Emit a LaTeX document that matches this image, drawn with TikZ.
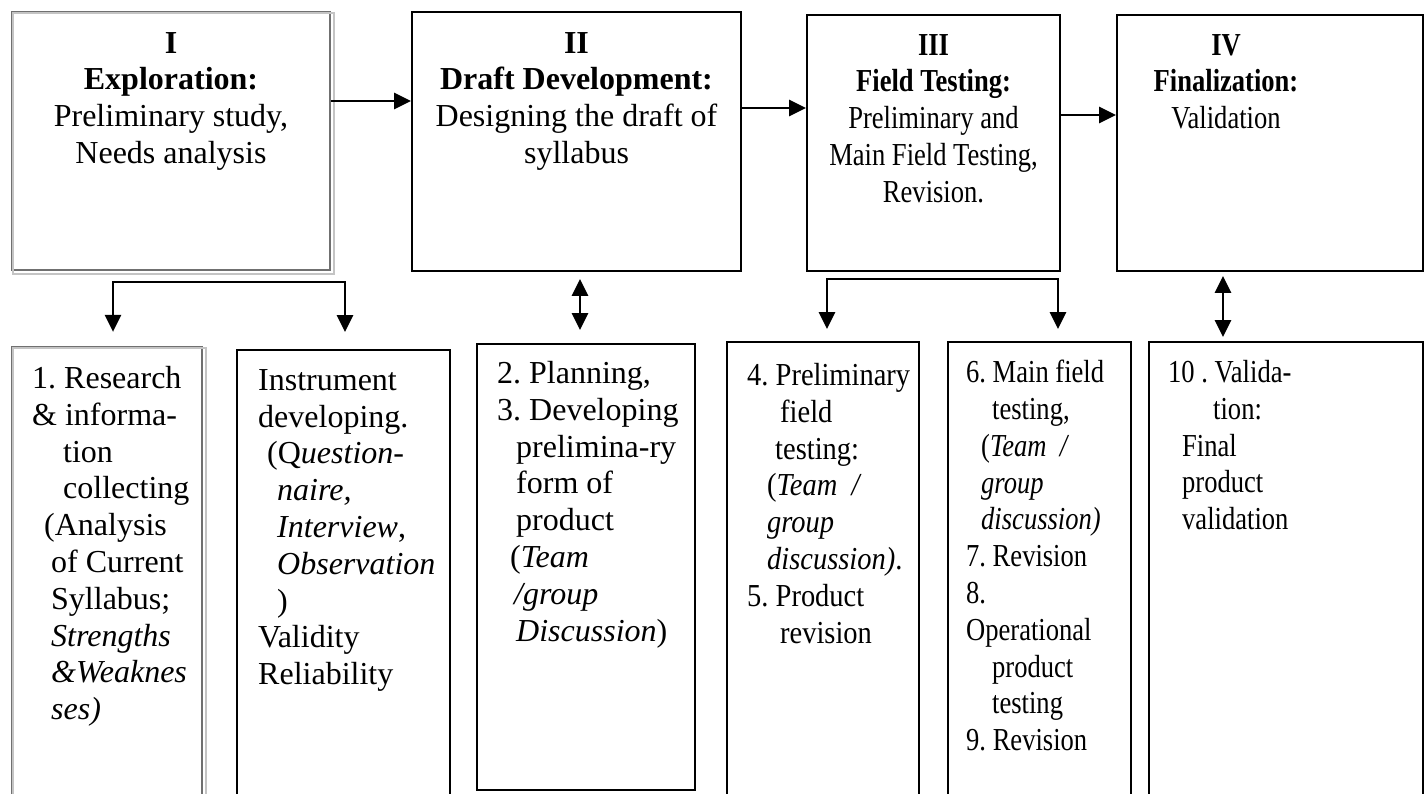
\documentclass[tikz,border=0pt]{standalone}
\usepackage{fontspec}
\setmainfont{Liberation Serif}
\newfontfamily\condA[FakeStretch=0.83]{Liberation Serif}
\newfontfamily\condB[FakeStretch=0.89]{Liberation Serif}
\usetikzlibrary{arrows.meta}
\definecolor{boxgrey}{HTML}{707070}
\definecolor{shadegrey}{HTML}{C4C4C4}
\newcommand\lnstrut{\rule{0pt}{22pt}}
\frenchspacing

\begin{document}
\begin{tikzpicture}[x=1pt,y=-1pt,
  box/.style={draw=black, line width=1.9pt, inner sep=0pt},
  greybox/.style={draw=boxgrey, line width=2.2pt, inner sep=0pt},
  shadeline/.style={draw=shadegrey, line width=2pt},
  txt/.style={inner sep=0pt, font=\fontsize{32pt}{36.8pt}\selectfont},
  txtA/.style={inner sep=0pt, font={\condA\fontsize{32pt}{36.8pt}\selectfont}},
  txtB/.style={inner sep=0pt, font={\condB\fontsize{32pt}{36.8pt}\selectfont}},
  arr/.style={line width=2.8pt, line join=miter, -{Triangle[length=17pt,width=16pt]}},
  darr/.style={line width=2.8pt, line join=miter, {Triangle[length=17pt,width=16pt]}-{Triangle[length=17pt,width=16pt]}}
]
\useasboundingbox (0,0) rectangle (1427,794);
\clip (0,0) rectangle (1427,794);

% stage boxes
\node[greybox, minimum width=318pt, minimum height=258pt] (s1) at (171,141) {};
\node[box, minimum width=329pt, minimum height=259pt] (s2) at (576.5,141.5) {};
\node[box, minimum width=253pt, minimum height=256pt] (s3) at (933.5,143) {};
\node[box, minimum width=306pt, minimum height=256pt] (s4) at (1270,143) {};
\draw[shadeline] ([xshift=2.5pt,yshift=-2.5pt]s1.north west) rectangle ([xshift=2.5pt,yshift=-2.5pt]s1.south east);

% step boxes
\node[greybox, minimum width=190pt, minimum height=453pt] (b1) at (107,573.5) {};
\node[box, minimum width=213pt, minimum height=450pt] (b2) at (343.5,575) {};
\node[box, minimum width=218pt, minimum height=446pt] (b3) at (586,567) {};
\node[box, minimum width=192pt, minimum height=458pt] (b4) at (823,571) {};
\node[box, minimum width=183pt, minimum height=458pt] (b5) at (1039.5,571) {};
\node[box, minimum width=274pt, minimum height=458pt] (b6) at (1286,571) {};
\draw[shadeline] ([xshift=2.5pt,yshift=-2.5pt]b1.north west) rectangle ([xshift=2.5pt,yshift=-2.5pt]b1.south east);

% stage texts
\node[txt, anchor=north, align=center] (t1) at (171,31)
  {\lnstrut\textbf{I}\\ \textbf{Exploration:}\\ Preliminary study,\\ Needs analysis};
\node[txt, anchor=north, align=center] (t2) at (576.5,31)
  {\lnstrut\textbf{II}\\ \textbf{Draft Development:}\\ Designing the draft of\\ syllabus};
\node[txtA, anchor=north, align=center] (t3) at (933.5,33)
  {\lnstrut\textbf{III}\\ \textbf{Field Testing:}\\ Preliminary and\\ Main Field Testing,\\ Revision.};
\node[txtA, anchor=north, align=center] (t4) at (1226,33)
  {\lnstrut\textbf{IV}\\ \textbf{Finalization:}\\ Validation};

% step texts
\node[txt, anchor=north west, align=left] (u1) at (32,366)
  {\lnstrut 1. Research\\
   \& informa-\\
   \hspace*{31pt}tion\\
   \hspace*{31pt}collecting\\
   \hspace*{12pt}(Analysis\\
   \hspace*{19pt}of Current\\
   \hspace*{19pt}Syllabus;\\
   \hspace*{19pt}\textit{Strengths}\\
   \hspace*{19pt}\textit{\&Weaknes}\\
   \hspace*{19pt}\textit{ses)}};
\node[txt, anchor=north west, align=left] (u2) at (258,368)
  {\lnstrut Instrument\\
   developing.\\
   \hspace*{9pt}(Q\textit{uestion-}\\
   \hspace*{19pt}\textit{naire,}\\
   \hspace*{19pt}\textit{Interview},\\
   \hspace*{19pt}\textit{Observation}\\
   \hspace*{19pt})\\
   Validity\\
   Reliability};
\node[txt, anchor=north west, align=left] (u3) at (497,361)
  {\lnstrut 2. Planning,\\
   3. Developing\\
   \hspace*{19pt}prelimina-ry\\
   \hspace*{19pt}form of\\
   \hspace*{19pt}product\\
   \hspace*{13pt}(\textit{Team}\\
   \hspace*{17pt}\textit{/group}\\
   \hspace*{19pt}\textit{Discussion})};
\node[txtB, anchor=north west, align=left] (u4) at (747,363)
  {\lnstrut 4. Preliminary\\
   \hspace*{33pt}field\\
   \hspace*{28pt}testing:\\
   \hspace*{20pt}(\textit{Team\ \ /}\\
   \hspace*{20pt}\textit{group}\\
   \hspace*{20pt}\textit{discussion)}.\\
   5. Product\\
   \hspace*{33pt}revision};
\node[txtA, anchor=north west, align=left] (u5) at (966,360)
  {\lnstrut 6. Main field\\
   \hspace*{26pt}testing,\\
   \hspace*{15pt}(\textit{Team\ \ /}\\
   \hspace*{15pt}\textit{group}\\
   \hspace*{15pt}\textit{discussion)}\\
   7. Revision\\
   8.\\
   Operational\\
   \hspace*{26pt}product\\
   \hspace*{26pt}testing\\
   9. Revision};
\node[txtA, anchor=north west, align=left] (u6) at (1168,360)
  {\lnstrut 10 . Valida-\\
   \hspace*{45pt}tion:\\
   \hspace*{14pt}Final\\
   \hspace*{14pt}product\\
   \hspace*{14pt}validation};

% flow between stages
\draw[arr] (s1.east |- 0,101) -- (s2.west |- 0,101);
\draw[arr] (s2.east |- 0,108) -- (s3.west |- 0,108);
\draw[arr] (s3.east |- 0,115) -- (s4.west |- 0,115);

% links from stages to steps
\coordinate (k1a) at (113,282);
\coordinate (k1b) at (345,282);
\draw[darr, shorten <=14pt, shorten >=17pt] (b1.north -| k1a) -- (k1a) -- (k1b) -- (b2.north -| k1b);
\coordinate (k2) at (580,300);
\draw[darr, shorten <=7pt, shorten >=13pt] (s2.south -| k2) -- (b3.north -| k2);
\coordinate (k3a) at (827,279);
\coordinate (k3b) at (1058,279);
\draw[darr, shorten <=12pt, shorten >=12pt] (b4.north -| k3a) -- (k3a) -- (k3b) -- (b5.north -| k3b);
\coordinate (k4) at (1223,300);
\draw[darr, shorten <=4pt, shorten >=4pt] (s4.south -| k4) -- (b6.north -| k4);
\end{tikzpicture}
\end{document}
